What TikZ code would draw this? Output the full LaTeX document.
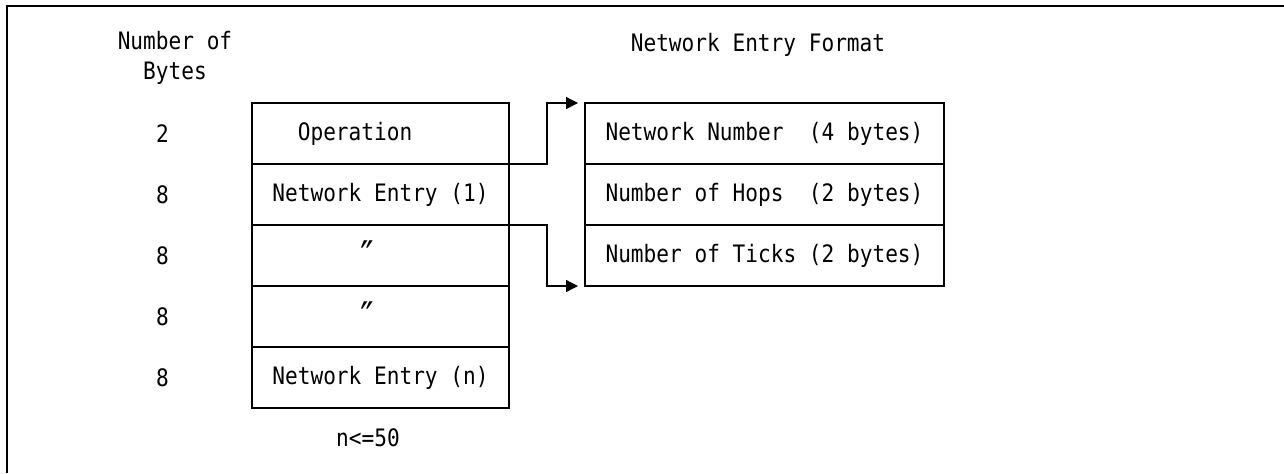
\documentclass[tikz,border=0pt]{standalone}
\usepackage{fontspec}
\usepackage{graphicx}
\usepackage{tikz}
\usetikzlibrary{arrows.meta,calc,positioning}
\newfontfamily\diagfont[FakeStretch=0.88,WordSpace={1,0,0}]{DejaVu Sans Mono}
\newcommand{\idem}{\raisebox{-.1ex}{\scalebox{1.7}{″}}}
\tikzset{
  texto/.style={
    font=\diagfont\fontsize{12}{15}\selectfont,
    inner sep=0pt,
    align=center
  },
  celda/.style={
    texto,
    draw,
    line width=.65pt,
    minimum width=128.5pt,
    minimum height=30.5pt,
    outer sep=0pt
  },
  campo/.style={
    celda,
    minimum width=179.5pt
  },
  arrow/.style={
    -{Triangle[length=6pt,width=6pt]},
    line width=.65pt,
    shorten >=3.5pt
  }
}
\begin{document}
\begin{tikzpicture}[x=.5pt,y=-.5pt,node distance=0pt]
\useasboundingbox (0,0) rectangle (1284,473);
\draw[line width=1pt] (1284,6) -- (7,6) -- (7,473);
% encabezados
\node[texto] (nbytes) at (175,58) {Number of\\Bytes};
\node[texto, anchor=base] (formato) at (758,51) {Network Entry Format};
% paquete
\node[celda] (op) at (380.5,133.5) {\hphantom{Ne}Operation\hphantom{Ntwork}};
\node[celda, below=of op] (e1) {Network Entry (1)};
\node[celda, below=of e1] (e2) {\hphantom{Network}\idem\hphantom{Entry (1)}};
\node[celda, below=of e2] (e3) {\hphantom{Network}\idem\hphantom{Entry (1)}};
\node[celda, below=of e3] (en) {Network Entry (n)};
\node[texto, anchor=base] (limite) at (368,446) {n<=50};
% bytes por fila
\foreach \fila/\num in {op/2,e1/8,e2/8,e3/8,en/8}
  \node[texto] (b-\fila) at (162.5,0 |- \fila) {\num};
% formato de la entrada
\node[campo] (nn) at (764.5,133.5) {Network Number\ \ (4 bytes)};
\node[campo, below=of nn] (nh) {Number of Hops\ \ (2 bytes)};
\node[campo, below=of nh] (nt) {Number of Ticks (2 bytes)};
\draw[arrow] (op.south east) -| ($(op.south east)!.5!(nn.north west)$) |- (nn.north west);
\draw[arrow] (e1.south east) -| ($(e1.south east)!.5!(nt.south west)$) |- (nt.south west);
\end{tikzpicture}
\end{document}
